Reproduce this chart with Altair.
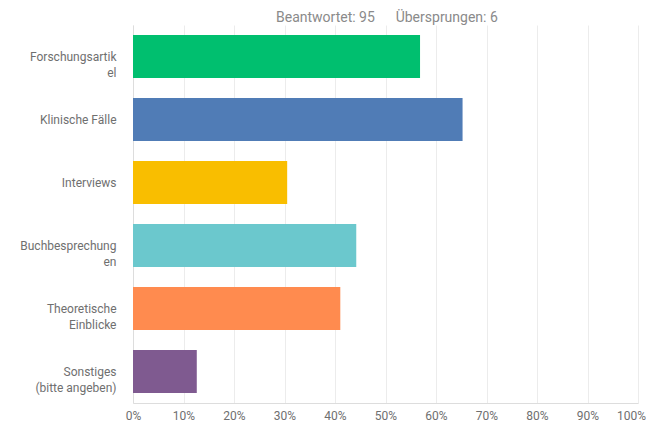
import json
import altair as alt
import pandas as pd

categories = ["Forschungsartikel", "Klinische Fälle", "Interviews",
              "Buchbesprechungen", "Theoretische Einblicke", "Sonstiges (bitte angeben)"]
wrapped = [["Forschungsartik", "el"], ["Klinische Fälle"], ["Interviews"],
           ["Buchbesprechung", "en"], ["Theoretische", "Einblicke"], ["Sonstiges", "(bitte angeben)"]]
percent = [56.84, 65.26, 30.53, 44.21, 41.05, 12.63]
colors = ["#00BF6F", "#507CB6", "#F9BE00", "#6BC8CD", "#FF8B4F", "#7F5A90"]
x_ticks = [0, 10, 20, 30, 40, 50, 60, 70, 80, 90, 100]
header = "Beantwortet: 95\u00a0\u00a0\u00a0\u00a0\u00a0\u00a0Übersprungen: 6"

df = pd.DataFrame({"cat": categories, "pct": percent})
label_map = json.dumps(dict(zip(categories, wrapped)), ensure_ascii=False)

chart = alt.Chart(df).mark_bar(size=43).encode(
    x=alt.X("pct:Q",
            scale=alt.Scale(domain=[0, 100], nice=False),
            axis=alt.Axis(values=x_ticks, labelExpr="datum.value + '%'", title=None,
                          grid=True, gridColor="#ececec", domain=True, domainColor="#dddddd",
                          ticks=False,
                          labelColor="#6f6f6f", labelFontSize=12, labelPadding=7,
                          labelFont="Roboto", labelFlush=False,
                          labelOffset=alt.condition("datum.value == 100", alt.value(-7), alt.value(0)))),
    y=alt.Y("cat:N", sort=categories,
            scale=alt.Scale(paddingInner=0.32, paddingOuter=0.16),
            axis=alt.Axis(title=None, labelExpr=f"{label_map}[datum.value]",
                          domain=True, domainColor="#dddddd", ticks=False, labelPadding=17,
                          labelColor="#6f6f6f", labelFontSize=12, labelFont="Roboto",
                          labelLineHeight=16, labelLimit=200,
                          minExtent=124, maxExtent=124)),
    color=alt.Color("cat:N", sort=categories,
                    scale=alt.Scale(domain=categories, range=colors), legend=None),
).properties(
    width=505, height=378,
    padding={"left": 1, "top": 3, "right": 0, "bottom": 0},
    title=alt.TitleParams(header, anchor="start", frame="group", dx=143, fontSize=14,
                          font="Roboto", fontWeight="normal", color="#8a8a8a", offset=0),
).configure_view(
    stroke=None
)

chart.save("out.html", embed_options={"renderer": "svg", "actions": False})
